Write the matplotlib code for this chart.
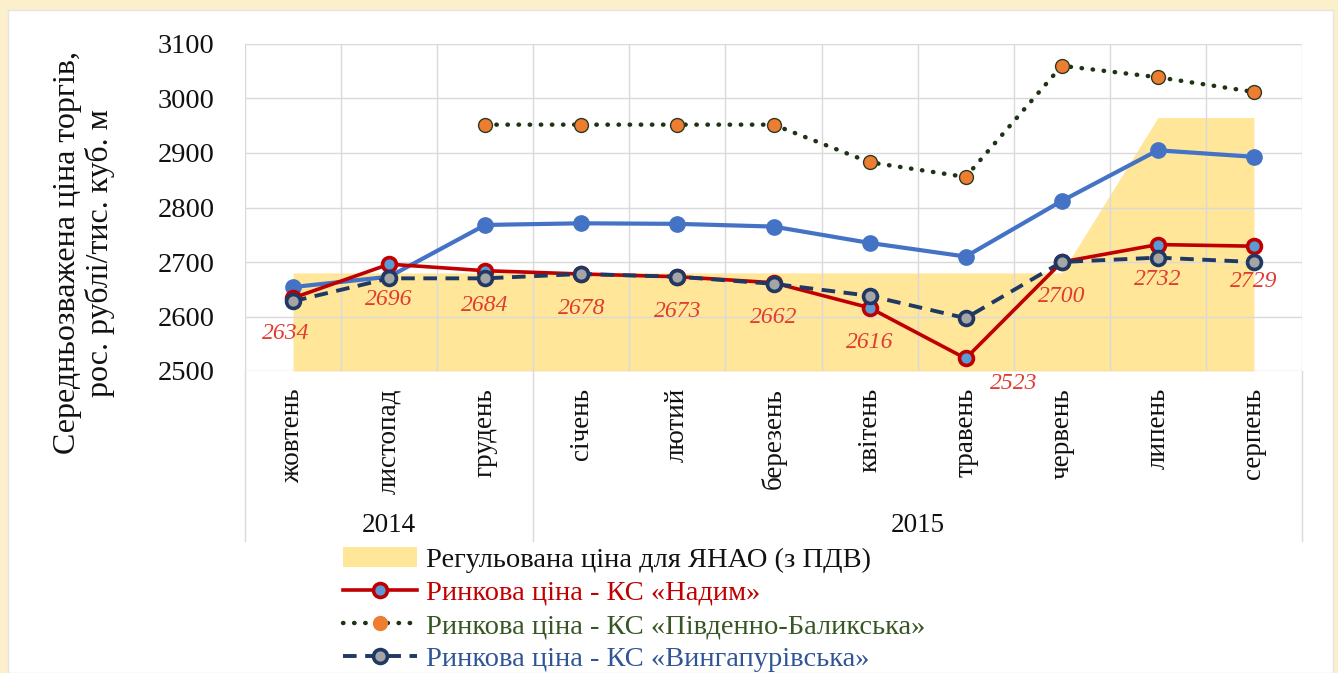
import matplotlib.pyplot as plt
from matplotlib.patches import Rectangle, Patch
from matplotlib.lines import Line2D
import matplotlib.transforms as mtransforms

plt.rcParams["font.family"] = ["Liberation Serif", "DejaVu Serif"]

months = ["жовтень", "листопад", "грудень", "січень", "лютий", "березень",
          "квітень", "травень", "червень", "липень", "серпень"]
years = ["2014", "2015"]
year_spans = [(0, 2), (3, 10)]

regulated = [2680, 2680, 2680, 2680, 2680, 2680, 2680, 2680, 2680, 2965, 2965]
nadym = [2634, 2696, 2684, 2678, 2673, 2662, 2616, 2523, 2700, 2732, 2729]
balyk = [None, None, 2952, 2952, 2952, 2952, 2883, 2856, 3060, 3039, 3012]
vyngap = [2628, 2670, 2670, 2678, 2673, 2660, 2638, 2597, 2700, 2708, 2700]
blue = [2654, 2673, 2768, 2771, 2770, 2765, 2735, 2710, 2812, 2905, 2893]

W, H = 1338, 673
fig = plt.figure(figsize=(W / 100, H / 100), dpi=100, facecolor="#fcefcc")
fig.patches.append(Rectangle((8 / W, 0), (1333 - 8) / W, (H - 10) / H,
                             transform=fig.transFigure, facecolor="white",
                             edgecolor="#e4e4e4", lw=1, zorder=-5))

ax = fig.add_axes([245 / W, (H - 371) / H, (1302 - 245) / W, (371 - 44) / H])
ax.set_facecolor("none")
x = list(range(len(months)))

red_style = dict(color="#c00000", lw=2.6, marker="o", ms=10,
                 mfc="#5b9bd5", mec="#c00000", mew=2.6)
dot_style = dict(color="#1e3314", lw=3.2, ls=(0, (0.1, 2.4)),
                 dash_capstyle="round", marker="o", ms=10, mfc="#ed7d31")
dash_style = dict(color="#1f3864", lw=2.8, ls=(0, (3.5, 2.2)), marker="o",
                  ms=10, mfc="#a5a5a5", mec="#1f3864", mew=2.6)

ax.fill_between(x, 2500, regulated, color="#ffe699", lw=0, zorder=1)
ax.plot(x, blue, color="#4472c4", lw=3.0, marker="o", ms=11, zorder=3)
ax.plot(x, nadym, zorder=4, **red_style)
xb = [i for i, v in zip(x, balyk) if v is not None]
vb = [v for v in balyk if v is not None]
ax.plot(xb, vb, mec="#2f3a20", mew=1, zorder=3, **dot_style)
ax.plot(x, vyngap, zorder=5, **dash_style)

offsets = [(-7, -36)] + [(0, -35)] * 6 + [(48, -25)] + [(0, -35)] * 3
for xi, v, off in zip(x, nadym, offsets):
    ax.annotate(str(v), (xi, v), xytext=off, textcoords="offset pixels",
                ha="center", va="center", fontsize=17, style="italic",
                color="#e03c31", zorder=6)

ax.set_xlim(-0.5, 10.5)
ax.set_ylim(2500, 3100)
ax.set_yticks(range(2500, 3101, 100))
ax.set_xticks([i + 0.5 for i in range(-1, 11)])
ax.set_xticklabels([])
ax.tick_params(axis="x", length=0)
ax.tick_params(axis="y", length=0, labelsize=20.5, pad=22, labelcolor="#111111")
ax.grid(True, color="#d9d9d9", lw=1)
for s in ax.spines.values():
    s.set_visible(False)

# multi-level category axis
trans = mtransforms.blended_transform_factory(ax.transData, ax.transAxes)
low = -(541 - 371) / (371 - 44)
for xi, m in zip(x, months):
    ax.text(xi, -17 / 327, m, transform=trans, rotation=90, ha="center",
            va="top", fontsize=19.5, color="#111111")
for (a, b), yr in zip(year_spans, years):
    ax.text((a + b) / 2, -(525 - 371) / 327, yr, transform=trans,
            ha="center", va="center", fontsize=19.5, color="#111111")
for xs in [-0.5, 2.5, 10.5]:
    ax.add_line(Line2D([xs, xs], [0, low], transform=trans, color="#d9d9d9",
                       lw=1, clip_on=False))

fig.text(84 / W, 1 - 253 / H,
         "Середньозважена ціна торгів,\nрос. рублі/тис. куб. м",
         rotation=90, ha="center", va="center", fontsize=23,
         multialignment="center", color="#111111", linespacing=1.1)

handles = [
    Patch(facecolor="#ffe699", edgecolor="none"),
    Line2D([], [], **red_style),
    Line2D([], [], mec="#ed7d31", **dot_style),
    Line2D([], [], **dash_style),
]
labels = ["Регульована ціна для ЯНАО (з ПДВ)",
          "Ринкова ціна - КС «Надим»",
          "Ринкова ціна - КС «Південно-Баликська»",
          "Ринкова ціна - КС «Вингапурівська»"]
leg = fig.legend(handles, labels, loc="upper left",
                 bbox_to_anchor=(343 / W, 1 - 547 / H), frameon=False,
                 fontsize=20.5, handlelength=2.6, handletextpad=0.3,
                 labelspacing=0.25, borderpad=0, borderaxespad=0)
for t, c in zip(leg.get_texts(), ["#111111", "#c00000", "#375623", "#2f5597"]):
    t.set_color(c)

fig.savefig("out.png", dpi=100, facecolor=fig.get_facecolor())
